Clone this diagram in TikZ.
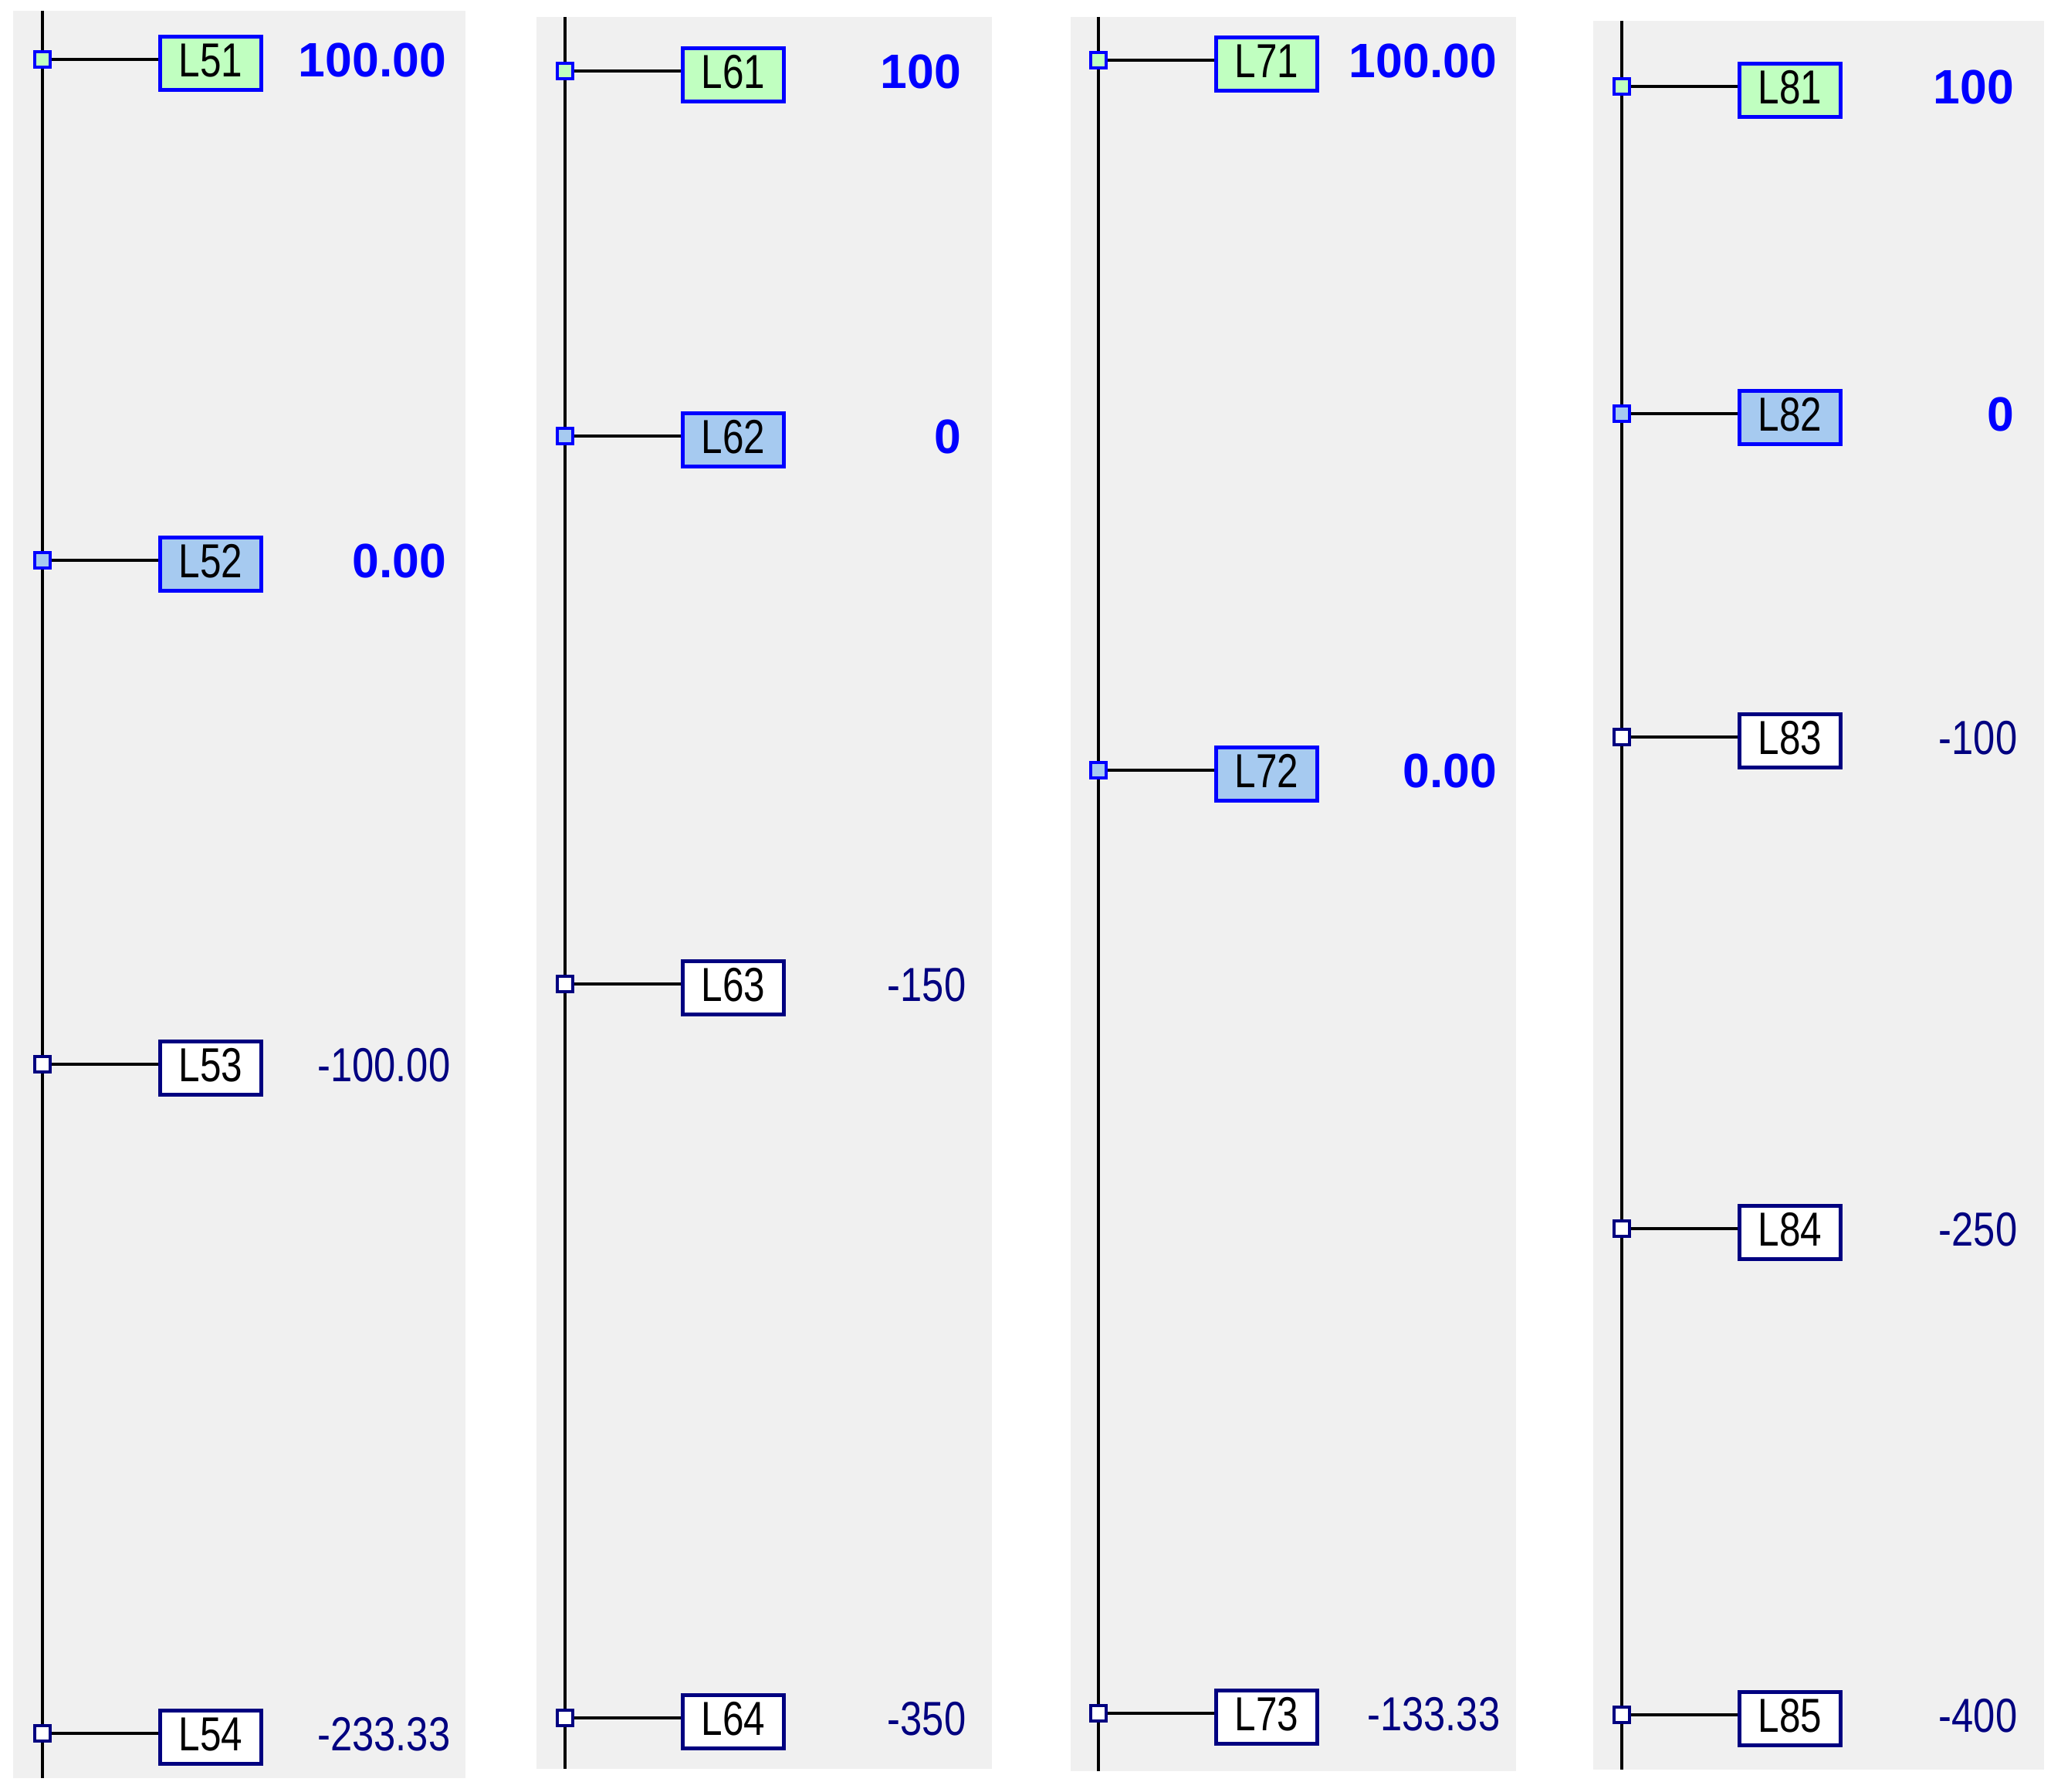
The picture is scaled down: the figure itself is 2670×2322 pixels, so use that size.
\documentclass[tikz,border=0pt]{standalone}
\usepackage{fontspec}
\setmainfont{Liberation Sans}
\newfontfamily\lblfont[FakeStretch=0.8]{Liberation Sans}
\newfontfamily\valfont[FakeStretch=0.82]{Liberation Sans}
\definecolor{panelbg}{HTML}{F0F0F0}
\definecolor{selblue}{HTML}{0000FF}
\definecolor{navy}{HTML}{000080}
\definecolor{greenfill}{HTML}{C0FFC0}
\definecolor{bluefill}{HTML}{A6CAF0}
\tikzset{
  panel/.style={fill=panelbg, draw=none},
  bus/.style={draw=black, line width=0.35mm},
  conn/.style={draw=black, line width=0.38mm},
  sqbase/.style={rectangle, inner sep=0pt, minimum size=2.0mm, line width=0.42mm},
  sqgreen/.style={sqbase, draw=selblue, fill=greenfill},
  sqblue/.style={sqbase, draw=selblue, fill=bluefill},
  sqplain/.style={sqbase, draw=navy, fill=white},
  boxbase/.style={rectangle, inner sep=0pt, minimum width=13.1mm, minimum height=6.9mm,
    line width=0.5mm, text height=4.5mm, text depth=1mm,
    font=\lblfont\fontsize{17.6pt}{20pt}\selectfont, text=black},
  boxgreen/.style={boxbase, draw=selblue, fill=greenfill},
  boxblue/.style={boxbase, draw=selblue, fill=bluefill},
  boxplain/.style={boxbase, draw=navy, fill=white},
  valsel/.style={inner sep=0pt, text=selblue, font=\bfseries\fontsize{17.8pt}{20pt}\selectfont},
  valplain/.style={inner sep=0pt, text=navy, font=\valfont\fontsize{17.6pt}{20pt}\selectfont},
}
% #1 id, #2 bus x, #3 row y, #4 square style, #5 box style, #6 label, #7 value style, #8 value right x, #9 value
\newcommand\lrow[9]{%
  \node[#4] (s#1) at (#2,#3) {};
  \node[#5] (b#1) at ({#2+218},{#3+5}) {#6};
  \draw[conn] (s#1.east) -- (s#1.east -| b#1.west);
  \node[#7, anchor=base east] (v#1) at (#8,{#3+22.5}) {#9};
}
\begin{document}
\begin{tikzpicture}[x=0.1mm, y=-0.1mm]
\useasboundingbox (0,0) rectangle (2670,2322);
\fill[white] (0,0) rectangle (2670,2322);
% panels
\fill[panel] (17,14) rectangle (603,2304);
\fill[panel] (695,22) rectangle (1285,2292);
\fill[panel] (1387,22) rectangle (1964,2295);
\fill[panel] (2064,27) rectangle (2648,2293);
% buses
\coordinate (t5) at (55,14);    \coordinate (e5) at (55,2304);
\coordinate (t6) at (732,22);   \coordinate (e6) at (732,2292);
\coordinate (t7) at (1423,22);  \coordinate (e7) at (1423,2295);
\coordinate (t8) at (2101,27);  \coordinate (e8) at (2101,2293);
\draw[bus] (t5) -- (e5);
\draw[bus] (t6) -- (e6);
\draw[bus] (t7) -- (e7);
\draw[bus] (t8) -- (e8);
% panel 1
\lrow{51}{55}{77}{sqgreen}{boxgreen}{L51}{valsel}{579}{100.00}
\lrow{52}{55}{726}{sqblue}{boxblue}{L52}{valsel}{579}{0.00}
\lrow{53}{55}{1379}{sqplain}{boxplain}{L53}{valplain}{584}{-100.00}
\lrow{54}{55}{2246}{sqplain}{boxplain}{L54}{valplain}{584}{-233.33}
% panel 2
\lrow{61}{732}{92}{sqgreen}{boxgreen}{L61}{valsel}{1246}{100}
\lrow{62}{732}{565}{sqblue}{boxblue}{L62}{valsel}{1246}{0}
\lrow{63}{732}{1275}{sqplain}{boxplain}{L63}{valplain}{1252}{-150}
\lrow{64}{732}{2226}{sqplain}{boxplain}{L64}{valplain}{1252}{-350}
% panel 3
\lrow{71}{1423}{78}{sqgreen}{boxgreen}{L71}{valsel}{1940}{100.00}
\lrow{72}{1423}{998}{sqblue}{boxblue}{L72}{valsel}{1940}{0.00}
\lrow{73}{1423}{2220}{sqplain}{boxplain}{L73}{valplain}{1944}{-133.33}
% panel 4
\lrow{81}{2101}{112}{sqgreen}{boxgreen}{L81}{valsel}{2610}{100}
\lrow{82}{2101}{536}{sqblue}{boxblue}{L82}{valsel}{2610}{0}
\lrow{83}{2101}{955}{sqplain}{boxplain}{L83}{valplain}{2614}{-100}
\lrow{84}{2101}{1592}{sqplain}{boxplain}{L84}{valplain}{2614}{-250}
\lrow{85}{2101}{2222}{sqplain}{boxplain}{L85}{valplain}{2614}{-400}
\end{tikzpicture}
\end{document}
